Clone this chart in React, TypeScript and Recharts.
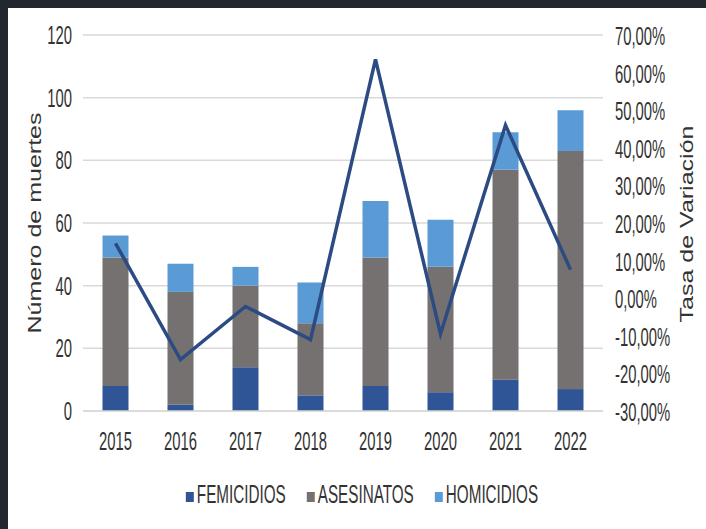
import React from 'react';
import { ComposedChart, Bar, Line, XAxis, YAxis, CartesianGrid } from 'recharts';

const years = ['2015', '2016', '2017', '2018', '2019', '2020', '2021', '2022'];
const femicidios = [8, 2, 14, 5, 8, 6, 10, 7];
const asesinatos = [41, 36, 26, 23, 41, 40, 67, 76];
const homicidios = [7, 9, 6, 13, 18, 15, 12, 13];
const variacion = [14.6, -16.3, -2.2, -11.0, 63.5, -9.5, 46.0, 7.6];

const seriesKeys = ['femicidios', 'asesinatos', 'homicidios'];
const seriesNames = ['FEMICIDIOS', 'ASESINATOS', 'HOMICIDIOS'];
const seriesColors = ['#2F5597', '#767171', '#5B9BD5'];

const leftTicks = [0, 20, 40, 60, 80, 100, 120];
const rightTicks = [-30, -20, -10, 0, 10, 20, 30, 40, 50, 60, 70];

const data = years.map((year, i) => ({
  year,
  femicidios: femicidios[i],
  asesinatos: asesinatos[i],
  homicidios: homicidios[i],
  variacion: variacion[i],
}));

// the reference text is horizontally compressed, so squeeze a regular sans
const FONT = '"Liberation Sans", Arial, sans-serif';
const SQUISH = 0.57;
const LEG_SQUISH = 0.61;
const TEXT = '#333333';

const W = 698;
const H = 521;

const pct = (v: number) => v.toFixed(2).replace('.', ',') + '%';

const LeftTick = ({ x, y, payload }: any) => (
  <text
    transform={`translate(${x - 3},${y + 9}) scale(${SQUISH},1)`}
    textAnchor="end"
    fontFamily={FONT}
    fontSize={26}
    fill={TEXT}
  >
    {payload.value}
  </text>
);

const RightTick = ({ x, y, payload }: any) => (
  <text
    transform={`translate(${x + 4},${y + 10}) scale(${SQUISH},1)`}
    textAnchor="start"
    fontFamily={FONT}
    fontSize={26}
    fill={TEXT}
  >
    {pct(payload.value)}
  </text>
);

const BottomTick = ({ x, y, payload }: any) => (
  <text
    transform={`translate(${x},${y + 31}) scale(${SQUISH},1)`}
    textAnchor="middle"
    fontFamily={FONT}
    fontSize={26}
    fill={TEXT}
  >
    {payload.value}
  </text>
);

const AxisTitle = ({ cx, cy, text }: { cx: number; cy: number; text: string }) => (
  <text
    transform={`translate(${cx},${cy}) rotate(-90) scale(1.39,1)`}
    textAnchor="middle"
    dominantBaseline="central"
    fontFamily={FONT}
    fontSize={18}
    fill={TEXT}
  >
    {text}
  </text>
);

const measure = (t: string) => {
  const ctx = document.createElement('canvas').getContext('2d');
  if (!ctx) return t.length * 9;
  ctx.font = `25px ${FONT}`;
  return ctx.measureText(t).width * LEG_SQUISH;
};

const ChartLegend = () => {
  const widths = seriesNames.map(measure);
  const total = widths.reduce((s, w) => s + 8 + 3 + w, 0) + 21 * (seriesNames.length - 1);
  let cursor = W / 2 + 5 - total / 2;
  const items = seriesNames.map((name, i) => {
    const start = cursor;
    cursor += 8 + 3 + widths[i] + 21;
    return (
      <g key={name}>
        <rect x={start} y={14} width={8} height={10} fill={seriesColors[i]} />
        <text
          transform={`translate(${start + 11},25) scale(${LEG_SQUISH},1)`}
          fontFamily={FONT}
          fontSize={25}
          fill={TEXT}
        >
          {name}
        </text>
      </g>
    );
  });
  return (
    <svg width={W} height={40} style={{ position: 'absolute', left: 0, top: 470 }}>
      {items}
    </svg>
  );
};

export default function App() {
  return (
    <div
      style={{
        position: 'absolute',
        left: 0,
        top: 0,
        width: 706,
        height: 529,
        background: '#23272f',
      }}
    >
      <div
        style={{
          position: 'absolute',
          left: 8,
          top: 8,
          width: W,
          height: H,
          background: '#ffffff',
        }}
      >
        <ComposedChart
          width={W}
          height={H}
          data={data}
          margin={{ top: 27, right: 0, bottom: 88, left: 0 }}
          barCategoryGap="30%"
        >
          <CartesianGrid yAxisId="left" vertical={false} stroke="#D9D9D9" strokeWidth={1.5} />
          <XAxis
            dataKey="year"
            height={30}
            axisLine={{ stroke: '#D9D9D9', strokeWidth: 1.5 }}
            tickLine={false}
            tick={<BottomTick />}
            interval={0}
          />
          <YAxis
            yAxisId="left"
            orientation="left"
            width={75}
            domain={[0, 120]}
            ticks={leftTicks}
            axisLine={false}
            tickLine={false}
            tick={<LeftTick />}
            label={{
              content: ({ viewBox }: any) => (
                <AxisTitle cx={viewBox.x + 27} cy={viewBox.y + viewBox.height / 2} text="Número de muertes" />
              ),
            }}
          />
          <YAxis
            yAxisId="right"
            orientation="right"
            width={103}
            domain={[-30, 70]}
            ticks={rightTicks}
            axisLine={false}
            tickLine={false}
            tick={<RightTick />}
            label={{
              content: ({ viewBox }: any) => (
                <AxisTitle cx={viewBox.x + 84} cy={viewBox.y + viewBox.height / 2 + 1} text="Tasa de Variación" />
              ),
            }}
          />
          {seriesKeys.map((key, i) => (
            <Bar
              key={key}
              yAxisId="left"
              dataKey={key}
              name={seriesNames[i]}
              stackId="muertes"
              fill={seriesColors[i]}
              isAnimationActive={false}
            />
          ))}
          <Line
            yAxisId="right"
            type="linear"
            dataKey="variacion"
            stroke="#2B4B82"
            strokeWidth={3.5}
            dot={false}
            activeDot={false}
            isAnimationActive={false}
          />
        </ComposedChart>
        <ChartLegend />
      </div>
    </div>
  );
}
